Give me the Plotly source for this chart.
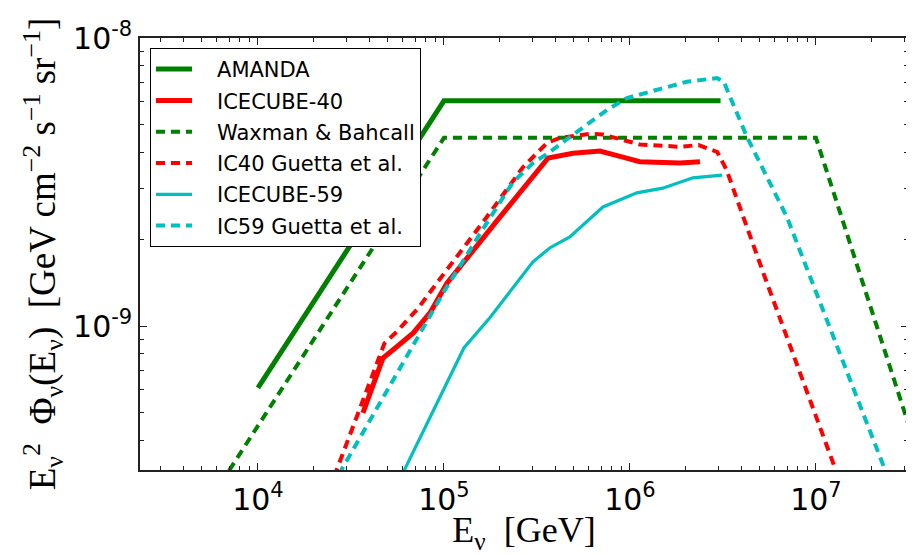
import plotly.graph_objects as go

# ---- data ----
amanda_E = [1.0e4, 1.0e5, 3.07e6]
amanda_F = [6.1e-10, 6.05e-9, 6.05e-9]

ic40_E = [3.67e4, 4.70e4, 5.58e4, 6.84e4, 8.41e4, 1.04e5, 1.95e5, 3.63e5, 4.94e5,
          6.90e5, 9.16e5, 1.13e6, 1.86e6, 2.38e6]
ic40_F = [4.99e-10, 7.74e-10, 8.47e-10, 9.46e-10, 1.11e-9, 1.41e-9, 2.34e-9, 3.83e-9,
          3.98e-9, 4.05e-9, 3.86e-9, 3.72e-9, 3.68e-9, 3.72e-9]

wb_E = [7.0e3, 1.0e5, 1.0e7, 3.2e7]
wb_F = [3.15e-10, 4.5e-9, 4.5e-9, 4.4e-10]

ic40g_E = [2.57e4, 4.79e4, 5.57e4, 7.24e4, 9.16e4, 1.33e5, 1.70e5, 2.66e5, 3.58e5, 4.21e5,
           6.10e5, 7.16e5, 9.16e5, 1.13e6, 1.86e6, 2.34e6, 2.95e6, 3.31e6, 4.07e6, 5.37e6,
           1.26e7, 1.32e7]
ic40g_F = [3.0e-10, 8.71e-10, 9.55e-10, 1.15e-9, 1.41e-9, 1.94e-9, 2.39e-9, 3.56e-9, 4.32e-9,
           4.50e-9, 4.65e-9, 4.62e-9, 4.43e-9, 4.27e-9, 4.19e-9, 4.25e-9, 4.02e-9, 3.48e-9,
           2.39e-9, 1.45e-9, 3.24e-10, 2.95e-10]

ic59_E = [5.89e4, 1.28e5, 1.77e5, 3.01e5, 3.72e5, 4.75e5, 7.16e5, 1.09e6, 1.50e6, 2.18e6, 3.13e6]
ic59_F = [3.0e-10, 8.39e-10, 1.07e-9, 1.67e-9, 1.87e-9, 2.04e-9, 2.59e-9, 2.90e-9, 3.01e-9,
          3.27e-9, 3.34e-9]

ic59g_E = [2.72e4, 1.01e5, 1.70e5, 2.35e5, 3.01e5, 3.63e5, 5.19e5, 7.52e5, 9.64e5, 2.02e6,
           2.94e6, 3.20e6, 3.33e6, 4.26e6, 6.98e6, 9.40e6, 2.32e7, 2.37e7]
ic59g_F = [3.05e-10, 1.33e-9, 2.28e-9, 3.16e-9, 3.68e-9, 3.98e-9, 4.72e-9, 5.62e-9, 6.19e-9,
           7.05e-9, 7.26e-9, 7.05e-9, 6.61e-9, 4.53e-9, 2.39e-9, 1.45e-9, 3.24e-10, 3.05e-10]

x_tickvals = [1e4, 1e5, 1e6, 1e7]
x_ticktext = ["10<sup>4</sup>", "10<sup>5</sup>", "10<sup>6</sup>", "10<sup>7</sup>"]
y_tickvals = [1e-9, 1e-8]
y_ticktext = ["10<sup>-9</sup>", "10<sup>-8</sup>"]
x_minor = [m * 10.0 ** p for p in range(3, 8) for m in range(2, 10)]
y_minor = [m * 10.0 ** p for p in (-10, -9) for m in range(2, 10)]

GREEN = "#008000"
RED = "#ff0000"
CYAN = "#00bfbf"
DASH = "9px,6px"
PAD = "\u00a0\u00a0\u00a0"

series = [
    ("AMANDA", amanda_E, amanda_F, GREEN, 5, "solid"),
    ("ICECUBE-40", ic40_E, ic40_F, RED, 5, "solid"),
    ("Waxman & Bahcall", wb_E, wb_F, GREEN, 4, DASH),
    ("IC40 Guetta et al.", ic40g_E, ic40g_F, RED, 4, DASH),
    ("ICECUBE-59", ic59_E, ic59_F, CYAN, 3.2, "solid"),
    ("IC59 Guetta et al.", ic59g_E, ic59g_F, CYAN, 4, DASH),
]

fig = go.Figure()
for i, (name, xs, ys, col, w, dash) in enumerate(series):
    fig.add_trace(go.Scatter(x=xs, y=ys, mode="lines", name=PAD + name,
                             legendgroup=f"g{i}",
                             line=dict(color=col, width=w, dash=dash)))

axis_common = dict(
    type="log", showgrid=False, zeroline=False, automargin=False,
    showline=True, linecolor="#222", linewidth=1.5, mirror="allticks",
    ticks="inside", ticklen=7, tickwidth=1, tickcolor="#222",
    tickfont=dict(family="DejaVu Sans", size=30, color="black"),
)

# page body adds an 8px offset, so the figure is sized 8px smaller
fig.update_layout(
    width=906, height=547,
    margin=dict(l=132, r=6, t=30, b=85),
    paper_bgcolor="white", plot_bgcolor="white",
    font=dict(family="DejaVu Sans", color="black"),
    showlegend=True,
    legend=dict(x=0.013, y=0.977, xanchor="left", yanchor="top",
                bgcolor="white", bordercolor="black", borderwidth=1,
                font=dict(family="DejaVu Sans", size=21, color="black"),
                traceorder="grouped", tracegroupgap=1, itemwidth=36),
    xaxis=dict(axis_common, range=[3.366, 7.495],
               tickvals=x_tickvals, ticktext=x_ticktext, ticklabelstandoff=2,
               minor=dict(tickmode="array", tickvals=x_minor, ticks="inside", ticklen=4,
                          tickwidth=1, tickcolor="#222", showgrid=False),
               title=dict(text="E<sub>ν</sub>  [GeV]",
                          font=dict(family="Liberation Serif", size=36, color="black"),
                          standoff=10)),
    yaxis=dict(axis_common, range=[-9.5, -8.0],
               tickvals=y_tickvals, ticktext=y_ticktext,
               minor=dict(tickmode="array", tickvals=y_minor, ticks="inside", ticklen=4,
                          tickwidth=1, tickcolor="#222", showgrid=False),
               title=dict(text="E<sub>ν</sub><sup>2</sup>  Φ<sub>ν</sub>(E<sub>ν</sub>)  [GeV cm<sup>−2</sup> s<sup>−1</sup> sr<sup>−1</sup>]",
                          font=dict(family="Liberation Serif", size=37, color="black"),
                          standoff=6)),
)

fig.write_html("out.html")
